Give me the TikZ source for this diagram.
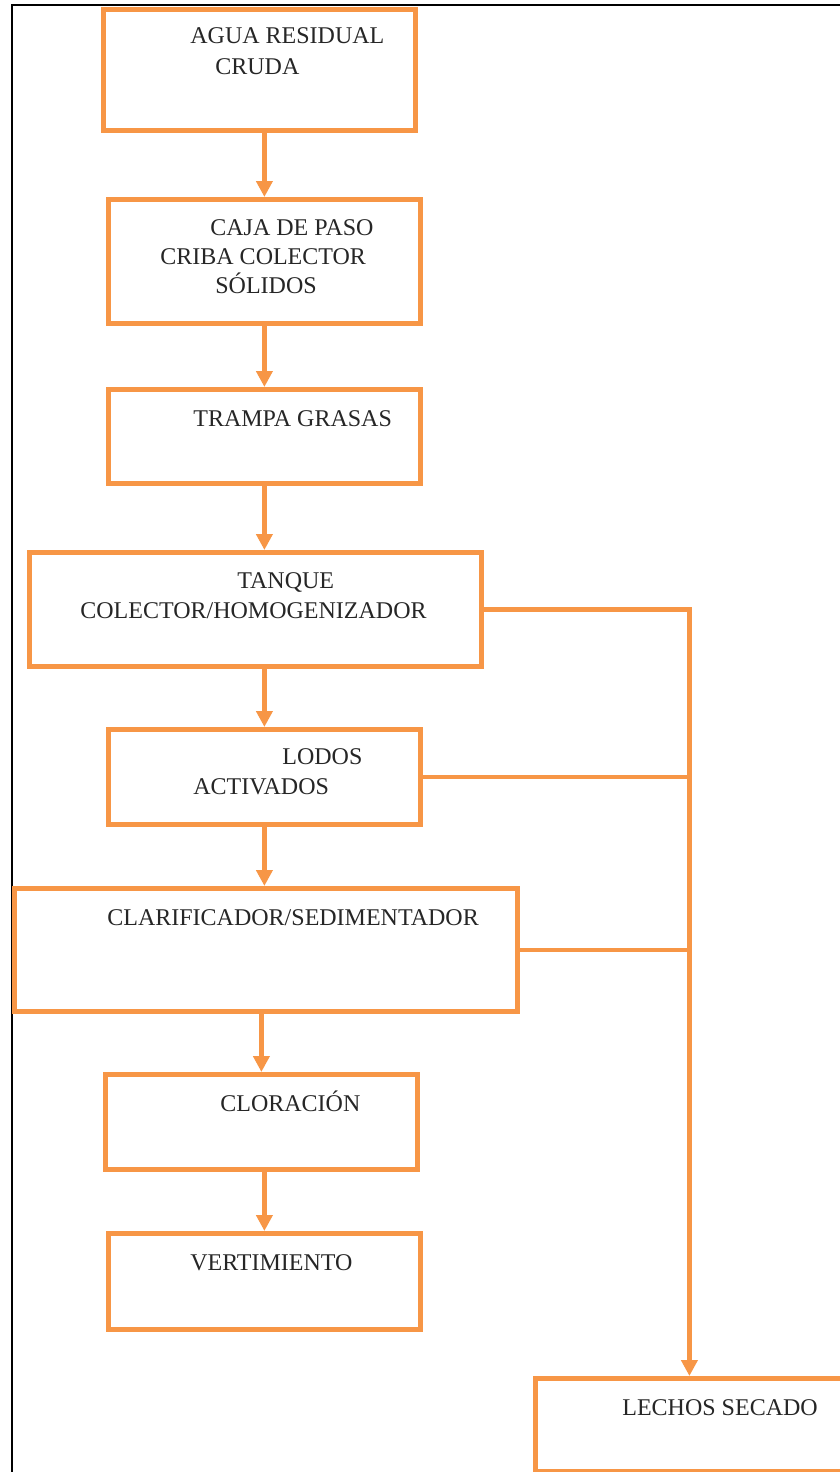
\documentclass[tikz,border=0pt]{standalone}
\usepackage{fontspec}
\setmainfont{Liberation Serif}
\usepackage{tikz}
\usetikzlibrary{arrows.meta}
\definecolor{naranja}{HTML}{F79646}

\begin{document}
\begin{tikzpicture}[x=0.5pt, y=-0.5pt,
	caja/.style 2 args={draw=naranja, line width=2.4pt, anchor=north west, inner sep=0, minimum width=#1*0.5pt, minimum height=#2*0.5pt},
	txt/.style={anchor=base west, inner sep=0, font=\fontsize{12}{14}\selectfont, text=black!85},
	flujo/.style={naranja, line width=2.2pt, -{Triangle[length=8pt, width=8pt]}},
	linea/.style={naranja, line width=2.4pt}]
	\useasboundingbox (0, 0) rectangle (840, 1472);
	\draw[line width=1pt] (850, 5) -- (12, 5) -- (12, 1480);
	% cajas
	\node[caja={312}{121}] (agua) at (101, 7) {};
	\node[caja={312}{124}] (paso) at (106, 197) {};
	\node[caja={312}{94}] (trampa) at (106, 387) {};
	\node[caja={452}{114}] (tanque) at (27, 550) {};
	\node[caja={312}{95}] (lodos) at (106, 727) {};
	\node[caja={503}{123}] (clarif) at (12, 886) {};
	\node[caja={312}{95}] (clor) at (103, 1072) {};
	\node[caja={312}{96}] (vert) at (106, 1231) {};
	\node[caja={308}{93}] (lechos) at (533, 1376) {};
	% textos
	\node[txt] (t1) at (190, 43) {AGUA RESIDUAL};
	\node[txt] (t2) at (215, 74) {CRUDA};
	\node[txt] (t3) at (210, 235) {CAJA DE PASO};
	\node[txt] (t4) at (160, 264) {CRIBA COLECTOR};
	\node[txt] (t5) at (215, 293) {SÓLIDOS};
	\node[txt] (t6) at (193, 426) {TRAMPA GRASAS};
	\node[txt] (t7) at (237, 588) {TANQUE};
	\node[txt] (t8) at (80, 618) {COLECTOR/HOMOGENIZADOR};
	\node[txt] (t9) at (282, 764) {LODOS};
	\node[txt] (t10) at (193, 794) {ACTIVADOS};
	\node[txt] (t11) at (107, 925) {CLARIFICADOR/SEDIMENTADOR};
	\node[txt] (t12) at (220, 1111) {CLORACIÓN};
	\node[txt] (t13) at (190, 1270) {VERTIMIENTO};
	\node[txt] (t14) at (622, 1415) {LECHOS SECADO};
	% flechas
	\draw[flujo] (agua.south -| paso.north) -- (paso.north);
	\draw[flujo] (paso) -- (trampa);
	\draw[flujo] (trampa.south) -- (trampa.south |- tanque.north);
	\draw[flujo] (tanque.south -| lodos.north) -- (lodos.north);
	\draw[flujo] (lodos.south) -- (lodos.south |- clarif.north);
	\draw[flujo] (clor.north |- clarif.south) -- (clor.north);
	\draw[flujo] (clor.south -| vert.north) -- (vert.north);
	\draw[flujo] (tanque.east) -- (tanque.east -| lechos.north) -- (lechos.north);
	\draw[linea] (lodos.east) -- (lodos.east -| lechos.north);
	\draw[linea] (clarif.east) -- (clarif.east -| lechos.north);
\end{tikzpicture}
\end{document}
